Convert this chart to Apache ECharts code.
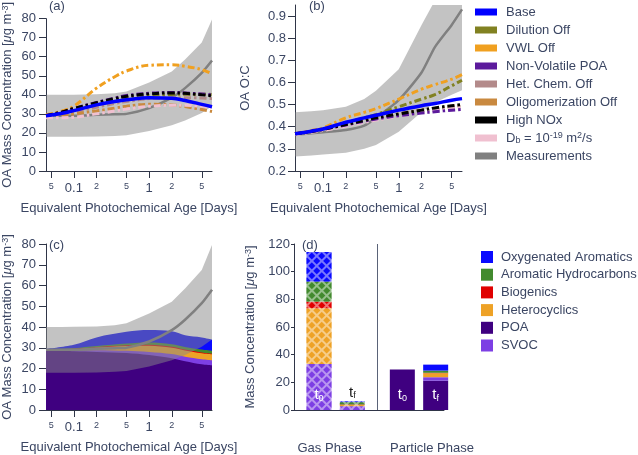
<!DOCTYPE html>
<html><head><meta charset="utf-8">
<script src="https://cdn.jsdelivr.net/npm/echarts@6/dist/echarts.min.js"></script>
<style>html,body{margin:0;padding:0;background:#fff}#c{width:638px;height:455px}</style>
</head><body><div id="c"></div>
<script>
// ================= DATA =================
// photochemical age (days) at which model / measurement values are read
const ages = [0.0427, 0.07, 0.1, 0.2, 0.35, 0.5, 1, 2, 3, 5, 6.84];

// (a) OA mass concentration [ug m-3]
const oaBase      = [29, 30.3, 31.7, 34.7, 36.5, 37.4, 38.5, 38.2, 37, 35, 33.7];
const oaDilution  = [29, 30.8, 32.3, 35.2, 37.3, 38.5, 39.6, 40.2, 40.3, 40.3, 40.2];
const oaVWL       = [29.5, 31.5, 34, 43.5, 49.5, 52.5, 55.5, 55.8, 55, 53.2, 51];
const oaNonVol    = [29, 31, 32.8, 36, 38.3, 39.6, 40.8, 41.2, 41, 40.4, 40];
const oaHet       = [29, 30, 31, 33.5, 35.5, 36.5, 38, 38.5, 38.5, 38.3, 38];
const oaOligo     = [28.8, 29.3, 30, 31.5, 33, 34, 35, 34.7, 33.8, 32.3, 31.2];
const oaHighNOx   = [29, 31, 32.8, 35.8, 38, 39.3, 40.5, 41, 40.8, 40, 39.5];
const oaDb        = [28, 28, 28.2, 30, 31.5, 32.5, 34, 34.5, 34.5, 34, 33.5];
const oaMeas      = [29, 29, 29, 29.5, 29.8, 30, 33, 38.5, 43.5, 51.5, 58];
const oaMeasHigh  = [40, 40, 40.1, 40.3, 40.8, 41.8, 46.5, 52.2, 58.5, 67.5, 79.5];
const oaMeasLow   = [18, 18, 18, 18.1, 18.4, 18.8, 21, 24, 26.5, 30.5, 34];

// (b) OA O:C
const ocBase      = [0.368, 0.38, 0.39, 0.42, 0.44, 0.452, 0.475, 0.495, 0.505, 0.52, 0.527];
const ocDilution  = [0.368, 0.38, 0.39, 0.418, 0.44, 0.455, 0.49, 0.525, 0.545, 0.585, 0.61];
const ocVWL       = [0.368, 0.382, 0.395, 0.44, 0.465, 0.482, 0.525, 0.57, 0.59, 0.615, 0.635];
const ocNonVol    = [0.368, 0.378, 0.388, 0.408, 0.425, 0.435, 0.45, 0.462, 0.468, 0.475, 0.478];
const ocHet       = [0.368, 0.378, 0.388, 0.41, 0.427, 0.438, 0.455, 0.47, 0.478, 0.488, 0.492];
const ocOligo     = [0.368, 0.378, 0.388, 0.41, 0.428, 0.44, 0.458, 0.474, 0.483, 0.493, 0.497];
const ocHighNOx   = [0.368, 0.378, 0.388, 0.41, 0.428, 0.44, 0.458, 0.475, 0.485, 0.495, 0.5];
const ocDb        = [0.365, 0.375, 0.383, 0.403, 0.42, 0.43, 0.448, 0.465, 0.475, 0.487, 0.49];
const ocMeas      = [0.365, 0.37, 0.375, 0.385, 0.405, 0.44, 0.52, 0.645, 0.76, 0.86, 0.93];
const ocMeasHigh  = [0.465, 0.47, 0.475, 0.49, 0.525, 0.563, 0.66, 0.86, 0.97, 1.1, 1.2];
const ocMeasLow   = [0.265, 0.27, 0.274, 0.282, 0.3, 0.317, 0.377, 0.467, 0.51, 0.545, 0.565];

// (c) Base-case OA by precursor class [ug m-3] (bottom -> top)
const compAges  = [0.0427, 0.1, 0.2, 0.5, 1, 2, 3, 5, 6.84];
const compPOA   = [28.5, 28.3, 28, 27.5, 26.5, 25, 23.5, 22, 21.5];
const compSVOC  = [0.3, 0.5, 0.8, 1, 1.5, 2, 2.2, 2.5, 2.5];
const compHet   = [0.2, 0.5, 1.2, 2.3, 3, 3, 3, 2.8, 2.8];
const compBio   = [0.1, 0.2, 0.3, 0.4, 0.5, 0.5, 0.4, 0.4, 0.3];
const compAro   = [0.2, 0.3, 0.5, 0.8, 1, 1.2, 1.3, 1.4, 1.4];
const compOxy   = [0.2, 1.7, 4.2, 5.7, 6.0, 6.2, 5.6, 5.9, 5.5];

// (d) mass concentration by class, order: POA, SVOC, Heterocyclics, Biogenics, Aromatic HC, Oxygenated Ar.
const gasT0  = [0, 33.3, 40.3, 4.8, 14.5, 21.3];
const gasTf  = [0, 2.8, 1.0, 0.3, 1.6, 0.5];
const partT0 = [29.3, 0, 0, 0, 0, 0];
const partTf = [21.2, 2.5, 2.9, 0.3, 1.6, 4.3];

const compNames = ['POA', 'SVOC', 'Heterocyclics', 'Biogenics', 'Aromatic Hydrocarbons', 'Oxygenated Aromatics'];
const tickAges  = [0.05, 0.1, 0.2, 0.5, 1, 2, 5];
const tickText  = ['5', '0.1', '2', '5', '1', '2', '5'];
const phaseLabels = ['Gas Phase', 'Particle Phase'];

// ================= STYLE =================
const FONT = 'Liberation Sans, Arial, Helvetica, sans-serif';
const TXT = '#3b4663';
const AXC = '#2f3547';
const BAND = 'rgba(135,135,135,0.5)';
const DASHDOT = [7, 3, 2.5, 3];
const X_MIN = -1.37, X_MAX = 0.835;
const modelColors = {
  'Base': '#0000ff', 'Dilution Off': '#818121', 'VWL Off': '#f0a020',
  'Non-Volatile POA': '#5c1a9c', 'Het. Chem. Off': '#b38a8a',
  'Oligomerization Off': '#c9893f', 'High NOx': '#000000', 'Db': '#f0c0d0',
  'Measurements': '#808080'
};
const compColors = ['#3f0080', '#7d3fe4', '#eea226', '#e00000', '#428a2e', '#0a0aff'];

function mix(hex, t) {
  const n = parseInt(hex.slice(1), 16);
  const r = (n >> 16) & 255, g = (n >> 8) & 255, b = n & 255;
  const f = c => Math.round(c + (255 - c) * t);
  return 'rgb(' + f(r) + ',' + f(g) + ',' + f(b) + ')';
}

const tickVals = tickAges.map(a => Math.log10(a));
const L = a => Math.log10(a);

function ageAxis(gi) {
  return {
    type: 'value', gridIndex: gi, min: X_MIN, max: X_MAX,
    name: 'Equivalent Photochemical Age [Days]', nameLocation: 'middle', nameGap: 31,
    nameTextStyle: {fontSize: 13, color: TXT, fontFamily: FONT},
    axisLine: {show: true, onZero: false, lineStyle: {color: AXC, width: 1}},
    axisTick: {show: true, length: 7, customValues: tickVals, lineStyle: {color: AXC}},
    axisLabel: {
      customValues: tickVals, margin: 11, color: TXT, fontFamily: FONT,
      formatter: v => {
        const i = tickVals.findIndex(t => Math.abs(t - v) < 1e-6);
        if (i < 0) return '';
        const s = tickText[i];
        return (s === '0.1' || s === '1') ? '{big|' + s + '}' : '{sm|' + s + '}';
      },
      rich: {big: {fontSize: 13, color: TXT, fontFamily: FONT}, sm: {fontSize: 9, color: TXT, fontFamily: FONT}}
    },
    splitLine: {show: false}
  };
}
const nameRich = {
  n: {fontSize: 13, color: TXT, fontFamily: FONT},
  i: {fontSize: 13, color: TXT, fontFamily: FONT, fontStyle: 'italic'},
  sup: {fontSize: 9, color: TXT, fontFamily: FONT, verticalAlign: 'top', lineHeight: 9}
};
function valAxis(gi, min, max, interval, name, gap, tickLen, margin, extra) {
  return Object.assign({
    type: 'value', gridIndex: gi, min, max, interval,
    name, nameLocation: 'middle', nameGap: gap,
    nameTextStyle: {fontSize: 13, color: TXT, fontFamily: FONT, rich: nameRich},
    axisLine: {show: true, onZero: false, lineStyle: {color: AXC, width: 1}},
    axisTick: {show: true, length: tickLen, lineStyle: {color: AXC}},
    axisLabel: {fontSize: 13, color: TXT, fontFamily: FONT, margin},
    splitLine: {show: false}
  }, extra || {});
}

function bandSeries(gi, lo, hi) {
  const xs = ages.map(L);
  return {
    type: 'custom', xAxisIndex: gi, yAxisIndex: gi, silent: true, clip: true, z: 1,
    data: xs.map((x, i) => [x, lo[i], hi[i]]),
    encode: {x: 0, y: [1, 2]},
    renderItem: (params, api) => {
      if (params.dataIndex !== 0) return null;
      const top = xs.map((x, i) => api.coord([x, hi[i]]));
      const bot = xs.map((x, i) => api.coord([x, lo[i]])).reverse();
      return {type: 'polygon', shape: {points: top.concat(bot)}, style: {fill: BAND}};
    }
  };
}
function lineSeries(name, gi, ys, opts) {
  const color = modelColors[name];
  return Object.assign({
    type: 'line', name, xAxisIndex: gi, yAxisIndex: gi,
    data: ages.map((a, i) => [L(a), ys[i]]),
    showSymbol: false, symbol: 'none', smooth: 0.4, silent: true, z: 3,
    lineStyle: {color, width: 3, type: DASHDOT, cap: 'butt'},
    itemStyle: {color}
  }, opts || {});
}
function panelLines(gi, d) {
  return [
    bandSeries(gi, d.low, d.high),
    lineSeries('Measurements', gi, d.meas, {smooth: 0.2, lineStyle: {color: modelColors['Measurements'], width: 2.5}}),
    lineSeries('Dilution Off', gi, d.dil),
    lineSeries('VWL Off', gi, d.vwl),
    lineSeries('Het. Chem. Off', gi, d.het),
    lineSeries('Oligomerization Off', gi, d.oli),
    lineSeries('Db', gi, d.db),
    lineSeries('Non-Volatile POA', gi, d.nv),
    lineSeries('High NOx', gi, d.hn),
    lineSeries('Base', gi, d.base, {lineStyle: {color: modelColors['Base'], width: 3.5}})
  ];
}

const series = [];
series.push(...panelLines(0, {low: oaMeasLow, high: oaMeasHigh, meas: oaMeas, dil: oaDilution, vwl: oaVWL,
  het: oaHet, oli: oaOligo, db: oaDb, nv: oaNonVol, hn: oaHighNOx, base: oaBase}));
series.push(...panelLines(1, {low: ocMeasLow, high: ocMeasHigh, meas: ocMeas, dil: ocDilution, vwl: ocVWL,
  het: ocHet, oli: ocOligo, db: ocDb, nv: ocNonVol, hn: ocHighNOx, base: ocBase}));

// (c) stacked composition: cumulative sums, painted from top layer down
const layers = [compPOA, compSVOC, compHet, compBio, compAro, compOxy];
const cum = [];
layers.forEach((ly, k) => cum.push(ly.map((v, i) => v + (k ? cum[k - 1][i] : 0))));
for (let k = layers.length - 1; k >= 0; k--) {
  series.push({
    type: 'line', name: compNames[k], xAxisIndex: 2, yAxisIndex: 2,
    data: compAges.map((a, i) => [L(a), cum[k][i]]),
    showSymbol: false, symbol: 'none', smooth: 0.35, silent: true, z: 1,
    lineStyle: {width: 0, opacity: 0},
    areaStyle: {color: compColors[k], opacity: 1, origin: 'start'},
    itemStyle: {color: compColors[k]}
  });
}
series.push(Object.assign(bandSeries(2, oaMeasLow, oaMeasHigh), {z: 2}));
series.push(lineSeries('Measurements', 2, oaMeas, {smooth: 0.2, lineStyle: {color: modelColors['Measurements'], width: 2.5}}));

// (d) bars
const SLOTS = 9, slotIdx = [1, 3, 6, 8];
const barSets = [gasT0, gasTf, partT0, partTf];
const tRich = c => ({
  t: {fontSize: 15, color: c, fontFamily: FONT, lineHeight: 16},
  s: {fontSize: 9, color: c, fontFamily: FONT, lineHeight: 9, verticalAlign: 'bottom'}
});
compNames.forEach((nm, k) => {
  const data = new Array(SLOTS).fill('-');
  barSets.forEach((set, b) => {
    const v = set[k];
    if (!v) return;
    const item = {value: v};
    if (b < 2) {
      item.itemStyle = {
        color: mix(compColors[k], 0.45),
        decal: {symbol: 'rect', symbolSize: 1, color: compColors[k],
                dashArrayX: [5, 1.3], dashArrayY: [5, 1.3], rotation: Math.PI / 4}
      };
    }
    data[slotIdx[b]] = item;
  });
  series.push({
    type: 'bar', name: nm, xAxisIndex: 3, yAxisIndex: 3, stack: 'd', barWidth: 25,
    clip: false, silent: true, itemStyle: {color: compColors[k]}, data
  });
});
// t0 / tf labels
function setLabel(k, slot, sub, pos, color, dist) {
  const s = series.find(x => x.type === 'bar' && x.name === compNames[k]);
  s.data[slot].label = {show: true, position: pos, distance: dist,
    formatter: '{t|t}{s|' + sub + '}', rich: tRich(color)};
}
setLabel(1, 1, '0', 'insideBottom', '#ffffff', 7);
setLabel(5, 3, 'f', 'top', '#1a1a1a', 1);
setLabel(0, 6, '0', 'insideBottom', '#ffffff', 7);
setLabel(0, 8, 'f', 'insideBottom', '#ffffff', 7);

const catData = Array.from({length: SLOTS}, (_, i) => 'c' + i);

const option = {
  animation: false,
  textStyle: {fontFamily: FONT},
  title: [
    {text: '(a)', left: 49, top: 0},
    {text: '(b)', left: 309, top: 0},
    {text: '(c)', left: 49, top: 239},
    {text: '(d)', left: 302, top: 239}
  ].map(t => Object.assign(t, {padding: 0, textStyle: {fontSize: 13, fontWeight: 'normal', color: TXT, fontFamily: FONT}})),
  grid: [
    {left: 45, top: 5, width: 167, height: 166},
    {left: 295, top: 5, width: 167, height: 166},
    {left: 45, top: 244, width: 167, height: 166},
    {left: 294, top: 244, width: 150, height: 166}
  ],
  legend: [
    {
      data: ['Base', 'Dilution Off', 'VWL Off', 'Non-Volatile POA', 'Het. Chem. Off',
             'Oligomerization Off', 'High NOx', 'Db', 'Measurements'],
      orient: 'vertical', left: 470, top: 0, icon: 'rect', itemWidth: 22, itemHeight: 7, itemGap: 4,
      selectedMode: false, itemStyle: {borderWidth: 0},
      formatter: n => n === 'Db' ? '{n|D}{sub|b}{n| = 10}{sup|-19}{n| m}{sup|2}{n|/s}' : n,
      textStyle: {fontSize: 13, color: TXT, fontFamily: FONT, lineHeight: 14, padding: [0, 0, 0, 4],
        rich: {
          n: {fontSize: 13, color: TXT, fontFamily: FONT, lineHeight: 14},
          sub: {fontSize: 9, color: TXT, fontFamily: FONT, lineHeight: 9, verticalAlign: 'bottom'},
          sup: {fontSize: 9, color: TXT, fontFamily: FONT, lineHeight: 9, verticalAlign: 'top'}
        }}
    },
    {
      data: ['Oxygenated Aromatics', 'Aromatic Hydrocarbons', 'Biogenics', 'Heterocyclics', 'POA', 'SVOC'],
      orient: 'vertical', left: 476, top: 245, icon: 'rect', itemWidth: 12, itemHeight: 12, itemGap: 3.7,
      selectedMode: false, itemStyle: {borderWidth: 0},
      textStyle: {fontSize: 13, color: TXT, fontFamily: FONT, lineHeight: 14, padding: [0, 0, 0, 3]}
    }
  ],
  xAxis: [
    ageAxis(0), ageAxis(1), ageAxis(2),
    {
      type: 'category', gridIndex: 3, data: catData, boundaryGap: true,
      axisLine: {show: true, lineStyle: {color: AXC}},
      axisTick: {show: false},
      axisLabel: {
        interval: 0, margin: 32, color: TXT, fontFamily: FONT, fontSize: 13,
        formatter: (v, i) => i === 2 ? '{g|' + phaseLabels[0] + '}' : (i === 7 ? '{p|' + phaseLabels[1] + '}' : ''),
        rich: {
          g: {fontSize: 13, color: TXT, fontFamily: FONT, padding: [0, 12, 0, 0]},
          p: {fontSize: 13, color: TXT, fontFamily: FONT, padding: [0, 0, 0, 26]}
        }
      },
      splitLine: {show: false}
    },
    // helper axis on panel (d) that only carries the gas / particle separator line
    {
      type: 'value', gridIndex: 3, min: 0, max: SLOTS, position: 'bottom',
      axisLine: {show: false}, axisLabel: {show: false},
      axisTick: {show: false, customValues: [5]},
      splitLine: {show: true, lineStyle: {color: '#5a6378', width: 1}}
    }
  ],
  yAxis: [
    valAxis(0, 0, 80, 10, 'OA Mass Concentration [{i|μ}g m{sup|-3}]', 32, 7, 10),
    valAxis(1, 0.2, 0.95, 0.1, 'OA O:C', 43, 7, 9, {
      axisLabel: {fontSize: 13, color: TXT, fontFamily: FONT, margin: 9,
        customValues: [0.2, 0.3, 0.4, 0.5, 0.6, 0.7, 0.8, 0.9], formatter: v => v.toFixed(1)},
      axisTick: {show: true, length: 7, lineStyle: {color: AXC}, customValues: [0.2, 0.3, 0.4, 0.5, 0.6, 0.7, 0.8, 0.9]}
    }),
    valAxis(2, 0, 80, 10, 'OA Mass Concentration [{i|μ}g m{sup|-3}]', 32, 7, 10),
    valAxis(3, 0, 120, 20, 'Mass Concentration [{i|μ}g m{sup|-3}]', 37, 3, 4)
  ],
  series
};
const chart = echarts.init(document.getElementById('c'), null, {renderer: 'canvas', width: 638, height: 455});
chart.setOption(option);
</script></body></html>
